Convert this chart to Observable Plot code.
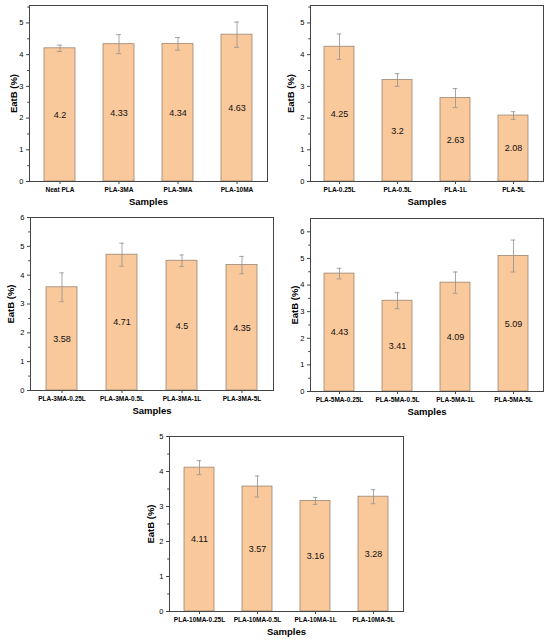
<!DOCTYPE html>
<html>
<head>
<meta charset="utf-8">
<script src="https://cdn.jsdelivr.net/npm/d3@7"></script>
<script src="https://cdn.jsdelivr.net/npm/@observablehq/plot@0.6"></script>
<style>
  html, body { margin: 0; padding: 0; background: #fff; }
  #wrap { position: relative; width: 550px; height: 642px; font-family: "Liberation Sans", Arial, sans-serif; }
  #wrap > div { position: absolute; }
</style>
</head>
<body>
<div id="wrap"></div>
<script>
// Panel 1
const cats1 = ["Neat PLA", "PLA-3MA", "PLA-5MA", "PLA-10MA"];
const vals1 = [4.2, 4.33, 4.34, 4.63];
const errs1 = [0.1, 0.3, 0.2, 0.4];
const yTicks1 = [0, 1, 2, 3, 4, 5];
// Panel 2
const cats2 = ["PLA-0.25L", "PLA-0.5L", "PLA-1L", "PLA-5L"];
const vals2 = [4.25, 3.2, 2.63, 2.08];
const errs2 = [0.4, 0.2, 0.3, 0.12];
const yTicks2 = [0, 1, 2, 3, 4, 5];
// Panel 3
const cats3 = ["PLA-3MA-0.25L", "PLA-3MA-0.5L", "PLA-3MA-1L", "PLA-3MA-5L"];
const vals3 = [3.58, 4.71, 4.5, 4.35];
const errs3 = [0.5, 0.4, 0.2, 0.3];
const yTicks3 = [0, 1, 2, 3, 4, 5, 6];
// Panel 4
const cats4 = ["PLA-5MA-0.25L", "PLA-5MA-0.5L", "PLA-5MA-1L", "PLA-5MA-5L"];
const vals4 = [4.43, 3.41, 4.09, 5.09];
const errs4 = [0.2, 0.3, 0.4, 0.6];
const yTicks4 = [0, 1, 2, 3, 4, 5, 6];
// Panel 5
const cats5 = ["PLA-10MA-0.25L", "PLA-10MA-0.5L", "PLA-10MA-1L", "PLA-10MA-5L"];
const vals5 = [4.11, 3.57, 3.16, 3.28];
const errs5 = [0.2, 0.3, 0.1, 0.2];
const yTicks5 = [0, 1, 2, 3, 4, 5];

const yLabel = "EatB (%)";
const xLabel = "Samples";

function panel(cats, vals, errs, yTicks, yMax, box) {
  const data = cats.map((c, i) => ({c, v: vals[i], e: errs[i]}));
  const innerW = box.width - box.ml - box.mr;
  const bw = innerW / 4 * 0.52;
  const capInset = bw / 2 - 2.5;
  const minor = d3.range(0.5, yMax, 1);
  const svg = Plot.plot({
    width: box.width,
    height: box.height,
    marginLeft: box.ml,
    marginRight: box.mr,
    marginTop: box.mt,
    marginBottom: box.mb,
    style: {fontFamily: "'Liberation Sans', Arial, sans-serif", color: "#000", background: "transparent", overflow: "visible"},
    x: {domain: cats, paddingInner: 0.48, paddingOuter: 0.24, axis: null, label: null},
    y: {domain: [0, yMax], axis: null, label: null},
    marks: [
      Plot.barY(data, {x: "c", y: "v", fill: "#f9c89b", stroke: "#9c8670", strokeWidth: 0.8}),
      Plot.ruleX(data, {x: "c", y1: d => d.v - d.e, y2: d => d.v + d.e, stroke: "#909090", strokeWidth: 0.8}),
      Plot.tickY(data, {x: "c", y: d => d.v + d.e, insetLeft: capInset, insetRight: capInset, stroke: "#909090", strokeWidth: 0.8}),
      Plot.tickY(data, {x: "c", y: d => d.v - d.e, insetLeft: capInset, insetRight: capInset, stroke: "#909090", strokeWidth: 0.8}),
      Plot.text(data, {x: "c", y: d => d.v / 2, text: d => String(d.v), fontSize: 9, fill: "#111"}),
      Plot.frame({stroke: "#444", strokeWidth: 1}),
      Plot.axisY({ticks: yTicks, tickSize: 3, tickPadding: 3, fontSize: 7.5, tickFormat: d3.format("d"), label: null, stroke: "#444"}),
      Plot.axisY({ticks: minor, tickSize: 1.8, tickFormat: () => "", label: null, stroke: "#444"}),
      Plot.axisX({tickSize: 3, tickPadding: 3, fontSize: 6.5, fontWeight: "bold", label: null, stroke: "#444"}),
      Plot.text([xLabel], {frameAnchor: "bottom", lineAnchor: "middle", dy: 20, fontWeight: "bold", fontSize: 9.5, fill: "#000"}),
      Plot.text([yLabel], {frameAnchor: "left", textAnchor: "middle", lineAnchor: "middle", dx: -box.yl, rotate: -90, fontWeight: "bold", fontSize: 9.5, fill: "#000"})
    ]
  });
  const div = document.createElement("div");
  div.style.left = box.left + "px";
  div.style.top = box.top + "px";
  div.appendChild(svg);
  document.getElementById("wrap").appendChild(div);
}

panel(cats1, vals1, errs1, yTicks1, 5.55, {left: 0, top: 0, width: 275, height: 210, ml: 29, mr: 8, mt: 5, mb: 29, yl: 16});
panel(cats2, vals2, errs2, yTicks2, 5.55, {left: 275, top: 0, width: 275, height: 210, ml: 35, mr: 7, mt: 5, mb: 29, yl: 20});
panel(cats3, vals3, errs3, yTicks3, 6, {left: 0, top: 205, width: 275, height: 215, ml: 30, mr: 2, mt: 12, mb: 30, yl: 20});
panel(cats4, vals4, errs4, yTicks4, 6.5, {left: 275, top: 205, width: 275, height: 215, ml: 35, mr: 7, mt: 13, mb: 29, yl: 16});
panel(cats5, vals5, errs5, yTicks5, 5, {left: 130, top: 420, width: 290, height: 222, ml: 39, mr: 17, mt: 16, mb: 31, yl: 19});
</script>
</body>
</html>
